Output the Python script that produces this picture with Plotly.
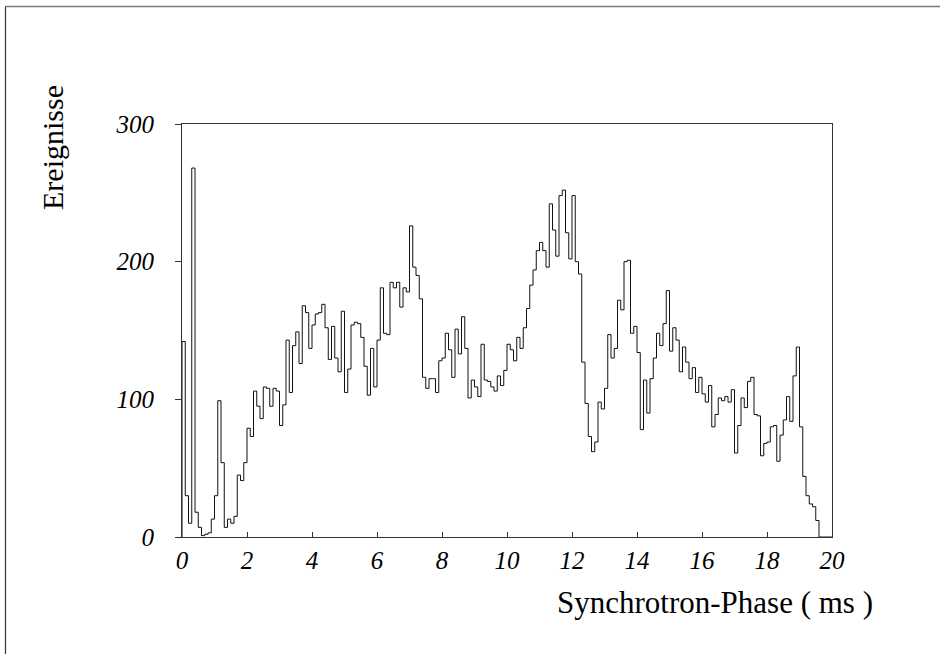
import numpy as np
import plotly.graph_objects as go

# Histogram of event counts versus synchrotron phase, 0.1 ms bins from 0 to 20 ms
bin_width = 0.1
counts = [
    142, 30, 10, 268, 18, 7, 1, 2, 3, 13,
    30, 99, 54, 7, 13, 10, 15, 45, 41, 54,
    79, 73, 106, 95, 86, 109, 108, 95, 108, 106,
    81, 96, 143, 105, 139, 149, 126, 168, 163, 137,
    154, 162, 163, 169, 152, 129, 153, 130, 120, 164,
    105, 122, 154, 156, 155, 145, 124, 103, 137, 109,
    143, 181, 148, 147, 185, 181, 185, 167, 181, 178,
    226, 196, 190, 173, 116, 108, 115, 115, 105, 128,
    130, 148, 136, 116, 151, 133, 160, 137, 101, 114,
    109, 102, 140, 114, 113, 109, 106, 117, 110, 121,
    140, 136, 128, 145, 137, 152, 166, 183, 194, 208,
    214, 208, 196, 242, 223, 204, 248, 252, 221, 202,
    248, 200, 191, 127, 97, 73, 62, 69, 98, 93,
    108, 147, 130, 137, 172, 165, 200, 201, 148, 153,
    134, 78, 114, 90, 115, 130, 148, 139, 155, 179,
    135, 152, 143, 120, 138, 127, 115, 123, 105, 116,
    104, 98, 110, 80, 89, 101, 99, 102, 98, 107,
    61, 81, 101, 94, 113, 116, 89, 88, 59, 68,
    69, 80, 81, 55, 74, 85, 102, 84, 117, 138,
    80, 44, 30, 24, 22, 12, 0, 0, 0, 0,
]

x_ticks = [0, 2, 4, 6, 8, 10, 12, 14, 16, 18, 20]
y_ticks = [0, 100, 200, 300]
x_title = "Synchrotron-Phase ( ms )"
y_title = "Ereignisse"

edges = np.arange(len(counts) + 1) * bin_width
step_x = np.concatenate([[edges[0]], edges])
step_y = np.concatenate([[0], counts, [counts[-1]]])

serif = "Liberation Serif, Times New Roman, serif"
frame_color = "#333333"

fig = go.Figure()
fig.add_trace(go.Scatter(
    x=step_x, y=step_y,
    mode="lines",
    line=dict(shape="hv", color="#111111", width=1),
    hoverinfo="skip",
    showlegend=False,
))

W, H = 940, 654
ml, mr, mt, mb = 182, 108, 124, 117
pw, ph = W - ml - mr, H - mt - mb


def px_to_paper(px, py):
    return (px - ml) / pw, (H - mb - py) / ph


fig.update_layout(
    width=W, height=H,
    margin=dict(l=ml, r=mr, t=mt, b=mb, pad=0),
    paper_bgcolor="white",
    plot_bgcolor="white",
    font=dict(family=serif, color="black"),
    xaxis=dict(
        range=[0, 20],
        tickvals=x_ticks,
        ticktext=[str(v) for v in x_ticks],
        ticks="inside", ticklen=5, tickwidth=1, tickcolor=frame_color,
        showline=True, linecolor=frame_color, linewidth=1, mirror=True,
        showgrid=False, zeroline=False,
        tickfont=dict(family=serif, size=25, style="italic", color="black"),
        ticklabelstandoff=1,
    ),
    yaxis=dict(
        range=[0, 300],
        tickvals=y_ticks,
        ticktext=[str(v) for v in y_ticks],
        ticks="outside", ticklen=6, tickwidth=1, tickcolor=frame_color,
        showline=True, linecolor=frame_color, linewidth=1, mirror=True,
        showgrid=False, zeroline=False,
        tickfont=dict(family=serif, size=25, style="italic", color="black"),
        ticklabelstandoff=16,
    ),
)

# axis titles
tx, ty = px_to_paper(715, 602)
fig.add_annotation(
    x=tx, y=ty, xref="paper", yref="paper",
    text=x_title, showarrow=False,
    xanchor="center", yanchor="middle",
    font=dict(family=serif, size=31, color="black"),
)
lx, ly = px_to_paper(52, 148)
fig.add_annotation(
    x=lx, y=ly, xref="paper", yref="paper",
    text=y_title, showarrow=False, textangle=-90,
    xanchor="center", yanchor="middle",
    font=dict(family=serif, size=30, color="black"),
)

# page border along the top and left edges
x0, y0 = px_to_paper(5.5, 6.5)
x1, _ = px_to_paper(W + 5, 0)
_, y1 = px_to_paper(0, H + 5)
fig.add_shape(type="line", xref="paper", yref="paper",
              x0=x0, y0=y0, x1=x1, y1=y0,
              line=dict(color="#7a7a7a", width=1.5))
fig.add_shape(type="line", xref="paper", yref="paper",
              x0=x0, y0=y0, x1=x0, y1=y1,
              line=dict(color="#333333", width=1.2))

fig.write_html("out.html")
